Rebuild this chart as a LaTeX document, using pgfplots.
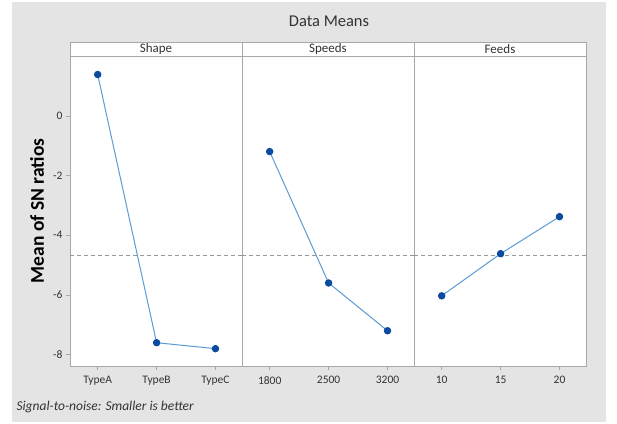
\documentclass[border=0pt]{standalone}
\usepackage{fontspec}
\setmainfont{Carlito}
\usepackage{pgfplots}
\pgfplotsset{compat=1.18}

\definecolor{bggray}{HTML}{E4E4E4}
\definecolor{frame}{HTML}{A8A8A8}
\definecolor{linecol}{HTML}{5B9BD5}
\definecolor{markcol}{HTML}{0B4A9E}
\definecolor{txt}{HTML}{333333}

\pgfplotsset{
  panel/.style={
    scale only axis, width=172pt, height=310pt,
    anchor=south west,
    ymin=-8.38, ymax=2.0,
    xmin=-0.47, xmax=2.45,
    xtick={0,1,2},
    axis line style={frame},
    tick style={frame, thin},
    tick align=outside, major tick length=4pt,
    xtick pos=bottom, ytick pos=left,
    axis background/.style={fill=white},
    ticklabel style={font=\fontsize{11.5}{11.5}\selectfont, text=txt},
    xticklabel style={yshift=-3pt},
    /pgf/number format/assume math mode=true,
    clip=false,
  },
  means/.style={linecol, line width=1pt, mark=*, mark size=3.2pt,
    mark options={markcol, fill=markcol}},
  grand/.style={frame!90!black, thick, dash pattern=on 4pt off 3pt, mark=none},
}

\newcommand{\grandmean}{-4.67}

\begin{document}
\begin{tikzpicture}[x=1pt,y=1pt]
\path[use as bounding box] (0,0) rectangle (617,423);
\fill[bggray] (12,1) rectangle (606,421);

\node[font=\fontsize{16.5}{16.5}\selectfont, text=txt] at (329,402) {Data Means};

% Shape
\begin{axis}[panel, at={(70pt,57pt)}, ytick={-8,-6,-4,-2,0},
  xticklabels={TypeA,TypeB,TypeC}]
\addplot[grand] coordinates {(-0.47,\grandmean) (2.45,\grandmean)};
\addplot[means] coordinates {(0,1.38) (1,-7.6) (2,-7.8)};
\end{axis}

% Speeds
\begin{axis}[panel, at={(242pt,57pt)}, ytick=\empty,
  xticklabels={1800,2500,3200}]
\addplot[grand] coordinates {(-0.47,\grandmean) (2.45,\grandmean)};
\addplot[means] coordinates {(0,-1.2) (1,-5.6) (2,-7.2)};
\end{axis}

% Feeds
\begin{axis}[panel, at={(414pt,57pt)}, ytick=\empty,
  xticklabels={10,15,20}]
\addplot[grand] coordinates {(-0.47,\grandmean) (2.45,\grandmean)};
\addplot[means] coordinates {(0,-6.03) (1,-4.62) (2,-3.38)};
\end{axis}

% panel headers
\begin{scope}[font=\fontsize{13}{13}\selectfont]
\draw[frame, fill=white] (70,367) rectangle (242,381);
\draw[frame, fill=white] (242,367) rectangle (414,381);
\draw[frame, fill=white] (414,367) rectangle (586,381);
\node[text=txt] at (156,374) {Shape};
\node[text=txt] at (328,374) {Speeds};
\node[text=txt] at (500,374) {Feeds};
\end{scope}

\node[rotate=90, font=\bfseries\fontsize{19.5}{19.5}\selectfont, text=black] at (37,212) {Mean of SN ratios};
\node[anchor=west, font=\itshape\fontsize{13.5}{14}\selectfont, text=txt] at (13,16) {Signal-to-noise: Smaller is better};
\end{tikzpicture}
\end{document}
